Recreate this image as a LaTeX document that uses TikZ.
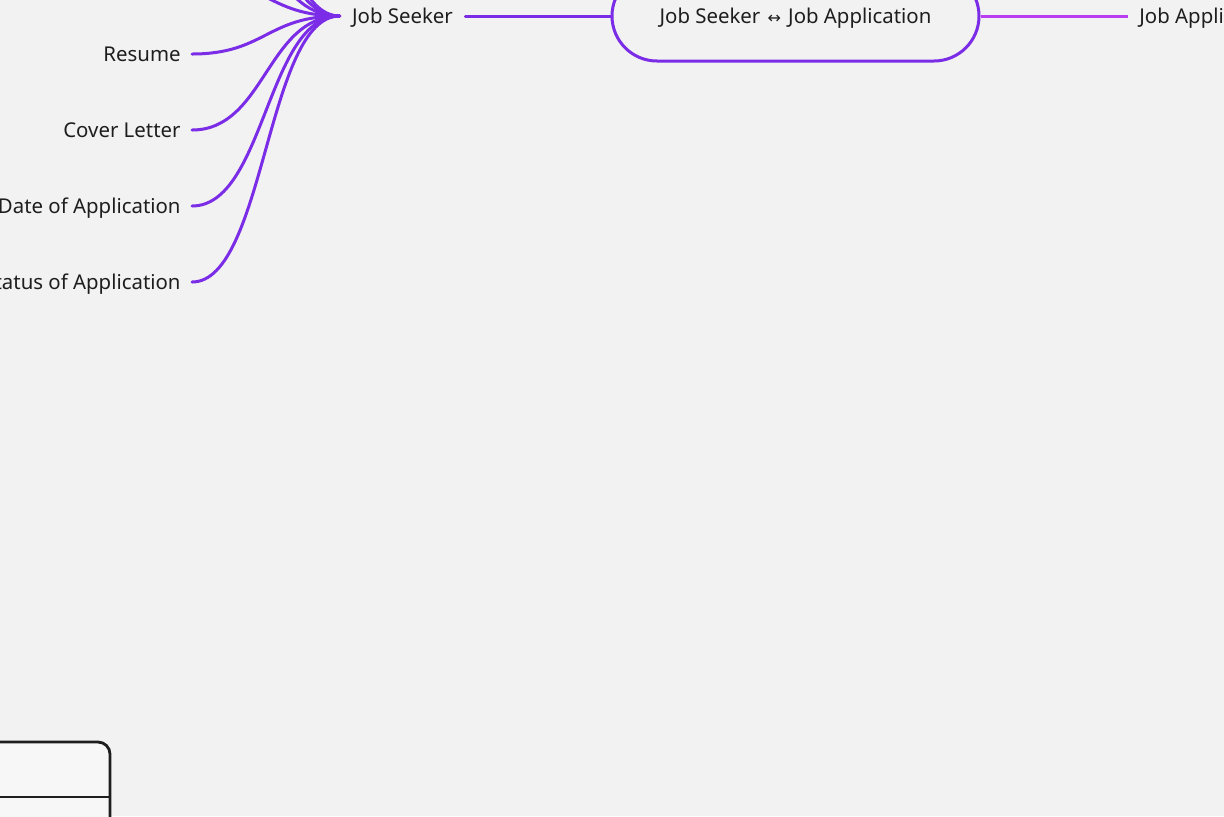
\documentclass[tikz,border=0pt]{standalone}
\usepackage{fontspec}
\setmainfont{Noto Sans}
\newfontfamily\symfont{DejaVu Sans}
\usepackage{tikz}
\usetikzlibrary{positioning}
\definecolor{Canvas}{HTML}{F2F2F2}
\definecolor{Ink}{HTML}{1E1E1E}
\definecolor{Violet}{HTML}{7A2CE6}
\definecolor{Orchid}{HTML}{B83CF0}
\definecolor{Paper}{HTML}{F7F7F7}

\begin{document}
\begin{tikzpicture}[
  x=0.5pt, y=-0.5pt,
  topic/.style={text=Ink, font=\fontsize{10.2}{12.2}\selectfont, inner xsep=5.5pt, inner ysep=0pt, text height=7.6pt, text depth=0pt},
  hub/.style={topic, draw=Violet, line width=1.5pt, rounded corners=22.5pt, minimum width=183.5pt, minimum height=45pt},
  branch/.style={draw=Violet, line width=1.5pt, line cap=round},
  link/.style={draw=Orchid, line width=1.5pt},
  card/.style={draw=Ink, fill=Paper, line width=1.4pt, rounded corners=6pt, minimum width=65pt, minimum height=69pt}
]
  \path[use as bounding box] (0,0) rectangle (1224,816);
  \fill[Canvas] (0,0) rectangle (1224,816);
  \clip (0,0) rectangle (1224,816);

  % centre of the map
  \node[hub] (hub) at (795.5,16) {Job Seeker\hspace{3.6pt}{\symfont\footnotesize ↔}\hspace{3.6pt}Job Application};
  \node[topic, inner xsep=6pt] (seeker) at (402.5,16) {Job Seeker};
  \node[topic, anchor=west] (app) at (1128,16) {Job Application};
  \draw[branch] (seeker.east) -- (hub.west);
  \draw[link] (hub.east) -- (app.west);

  % attributes of the job seeker
  \node[topic, anchor=east] (resume) at (192,54) {Resume};
  \node[topic, anchor=east] (cover) at (192,130) {Cover Letter};
  \node[topic, anchor=east] (date) at (192,206) {Date of Application};
  \node[topic, anchor=east] (status) at (192,282) {Status of Application};
  \coordinate (up1) at (192,-22);
  \coordinate (up2) at (192,-98);
  \coordinate (up3) at (192,-174);
  \coordinate (up4) at (192,-250);

  \draw[branch] (up1) .. controls +(73,0) and +(-73,0) .. (seeker.west);
  \draw[branch] (up2) .. controls +(73,0) and +(-73,0) .. (seeker.west);
  \draw[branch] (up3) .. controls +(73,0) and +(-73,0) .. (seeker.west);
  \draw[branch] (up4) .. controls +(73,0) and +(-73,0) .. (seeker.west);
  \draw[branch] (resume.east) .. controls +(73,0) and +(-73,0) .. (seeker.west);
  \draw[branch] (cover.east) .. controls +(73,0) and +(-73,0) .. (seeker.west);
  \draw[branch] (date.east) .. controls +(73,0) and +(-73,0) .. (seeker.west);
  \draw[branch] (status.east) .. controls +(73,0) and +(-73,0) .. (seeker.west);

  % table card, bottom left
  \node[card] (tab) at (45,811) {};
  \coordinate (split) at (0,797);
  \draw[draw=Ink, line width=1.4pt] (tab.west |- split) -- (tab.east |- split);
\end{tikzpicture}
\end{document}
